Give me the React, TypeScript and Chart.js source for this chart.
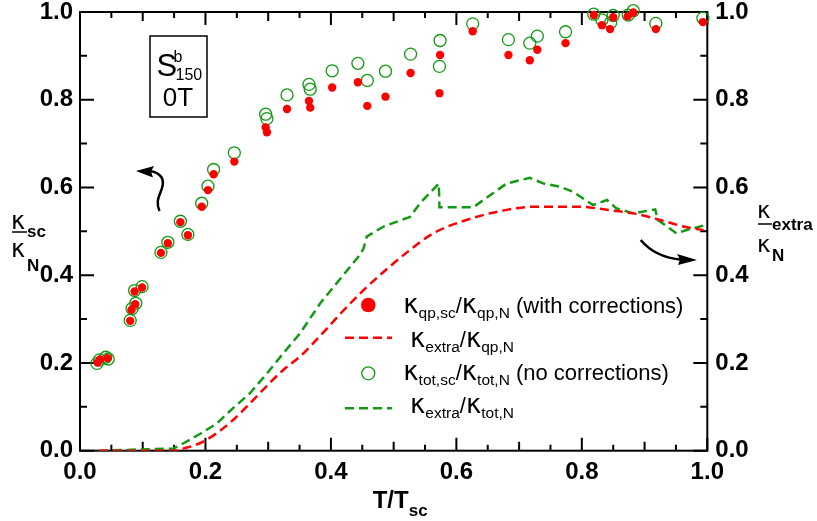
import React, { useEffect, useRef } from 'react';
import { Chart, registerables } from 'chart.js';

Chart.register(...registerables);

// ---------- data ----------
const xTickValues = [0, 0.2, 0.4, 0.6, 0.8, 1.0];
const xTickLabels = ['0.0', '0.2', '0.4', '0.6', '0.8', '1.0'];
const yTickValues = [0, 0.2, 0.4, 0.6, 0.8, 1.0];
const yTickLabels = ['0.0', '0.2', '0.4', '0.6', '0.8', '1.0'];
const xMinorValues = [0, 0.05, 0.1, 0.15, 0.2, 0.25, 0.3, 0.35, 0.4, 0.45, 0.5, 0.55, 0.6, 0.65, 0.7, 0.75, 0.8, 0.85, 0.9, 0.95, 1.0];
const yMinorValues = [0, 0.1, 0.2, 0.3, 0.4, 0.5, 0.6, 0.7, 0.8, 0.9, 1.0];

// kappa_qp,sc / kappa_qp,N (with corrections) — filled red
const corrT = [0.028, 0.032, 0.044, 0.080, 0.082, 0.087, 0.088, 0.099, 0.129, 0.140, 0.160, 0.172, 0.194, 0.204, 0.213, 0.246, 0.296, 0.298, 0.330, 0.365, 0.367, 0.402, 0.443, 0.458, 0.487, 0.527, 0.574, 0.573, 0.626, 0.683, 0.717, 0.729, 0.774, 0.819, 0.832, 0.845, 0.850, 0.873, 0.882, 0.918, 0.993];
const corrK = [0.201, 0.208, 0.211, 0.296, 0.321, 0.363, 0.334, 0.372, 0.451, 0.473, 0.521, 0.491, 0.556, 0.594, 0.630, 0.659, 0.737, 0.726, 0.779, 0.797, 0.782, 0.828, 0.840, 0.786, 0.807, 0.861, 0.902, 0.815, 0.956, 0.902, 0.890, 0.914, 0.929, 0.993, 0.970, 0.961, 0.988, 0.990, 0.999, 0.961, 0.977];

// kappa_tot,sc / kappa_tot,N (no corrections) — open green
const totT = [0.027, 0.031, 0.041, 0.045, 0.080, 0.083, 0.087, 0.089, 0.099, 0.129, 0.140, 0.160, 0.172, 0.194, 0.204, 0.213, 0.246, 0.296, 0.298, 0.330, 0.365, 0.367, 0.402, 0.443, 0.458, 0.487, 0.527, 0.574, 0.573, 0.626, 0.683, 0.717, 0.729, 0.774, 0.819, 0.832, 0.846, 0.850, 0.874, 0.882, 0.918, 0.993];
const totK = [0.199, 0.207, 0.213, 0.209, 0.297, 0.324, 0.365, 0.336, 0.374, 0.452, 0.475, 0.523, 0.493, 0.564, 0.603, 0.641, 0.679, 0.767, 0.757, 0.811, 0.835, 0.824, 0.866, 0.883, 0.844, 0.865, 0.904, 0.935, 0.876, 0.973, 0.937, 0.929, 0.945, 0.955, 0.995, 0.982, 0.976, 0.992, 0.993, 1.003, 0.974, 0.986];

// kappa_extra / kappa_qp,N — red dashed
const qpLineT = [0.03, 0.15, 0.165, 0.191, 0.218, 0.244, 0.271, 0.298, 0.324, 0.351, 0.383, 0.415, 0.452, 0.490, 0.526, 0.563, 0.616, 0.680, 0.723, 0.797, 0.840, 0.882, 0.925, 0.962, 0.994];
const qpLineK = [0.0, 0.0, 0.005, 0.017, 0.040, 0.070, 0.108, 0.148, 0.184, 0.215, 0.262, 0.312, 0.366, 0.415, 0.4575, 0.4955, 0.526, 0.549, 0.556, 0.556, 0.549, 0.541, 0.526, 0.511, 0.503];

// kappa_extra / kappa_tot,N — green dashed
const totLineT = [0.03, 0.149, 0.165, 0.191, 0.218, 0.244, 0.271, 0.298, 0.324, 0.351, 0.383, 0.415, 0.446, 0.452, 0.457, 0.484, 0.526, 0.542, 0.572, 0.573, 0.627, 0.680, 0.717, 0.739, 0.765, 0.786, 0.818, 0.840, 0.855, 0.882, 0.917, 0.921, 0.951, 0.967, 0.996];
const totLineK = [0.0, 0.005, 0.017, 0.038, 0.062, 0.097, 0.131, 0.176, 0.222, 0.268, 0.336, 0.392, 0.446, 0.461, 0.488, 0.511, 0.533, 0.564, 0.609, 0.555, 0.555, 0.609, 0.622, 0.609, 0.602, 0.590, 0.560, 0.5715, 0.5525, 0.541, 0.550, 0.526, 0.4955, 0.503, 0.514];

// ---------- styling ----------
const FONT = "'Liberation Sans', Arial, Helvetica, sans-serif";
const KFONT = "'DejaVu Sans', 'Liberation Sans', sans-serif";
const RED = '#ff0000';
const GREEN = '#139a13';

type Part = { t: string; size: number; bold?: boolean; dy?: number; fam?: string };

function drawRich(ctx: CanvasRenderingContext2D, x: number, y: number, parts: Part[]) {
  let cx = x;
  for (const p of parts) {
    ctx.font = `${p.bold ? 'bold ' : ''}${p.size}px ${p.fam || FONT}`;
    ctx.fillText(p.t, cx, y + (p.dy || 0));
    cx += ctx.measureText(p.t).width;
  }
  return cx;
}

const decorPlugin = {
  id: 'decor',
  beforeDatasetsDraw(chart: any) {
    const { ctx, chartArea: a, scales } = chart;
    ctx.save();
    ctx.strokeStyle = '#000';
    ctx.lineWidth = 2;
    ctx.strokeRect(a.left, a.top, a.right - a.left, a.bottom - a.top);
    ctx.beginPath();
    xMinorValues.forEach((v, i) => {
      const px = scales.x.getPixelForValue(v);
      const len = i % 4 === 0 ? 13 : i % 2 === 0 ? 9 : 6;
      ctx.moveTo(px, a.bottom); ctx.lineTo(px, a.bottom - len);
      ctx.moveTo(px, a.top); ctx.lineTo(px, a.top + len);
    });
    yMinorValues.forEach((v, i) => {
      const py = scales.y.getPixelForValue(v);
      const len = i % 2 === 0 ? 14 : 7;
      ctx.moveTo(a.left, py); ctx.lineTo(a.left + len, py);
      ctx.moveTo(a.right, py); ctx.lineTo(a.right - len, py);
    });
    ctx.stroke();
    ctx.restore();
  },
  afterDraw(chart: any) {
    const { ctx } = chart;
    ctx.save();
    ctx.fillStyle = '#000';
    ctx.strokeStyle = '#000';
    ctx.textBaseline = 'alphabetic';
    ctx.textAlign = 'left';

    // annotation box
    ctx.lineWidth = 1.5;
    ctx.strokeRect(150, 36, 57, 81);
    ctx.font = `31px ${FONT}`;
    ctx.fillText('S', 156.5, 76);
    ctx.font = `16px ${FONT}`;
    ctx.fillText('b', 173.5, 62);
    ctx.fillText('150', 175.5, 80);
    ctx.font = `26px ${FONT}`;
    ctx.textAlign = 'center';
    ctx.fillText('0T', 178, 106);
    ctx.textAlign = 'left';

    // x axis title
    drawRich(ctx, 372.7, 508, [
      { t: 'T/T', size: 24, bold: true },
      { t: 'sc', size: 17, bold: true, dy: 8 },
    ]);

    // left axis label (fraction)
    ctx.font = `24px ${KFONT}`;
    ctx.fillText('κ', 11, 229);
    ctx.font = `bold 17px ${FONT}`;
    ctx.fillText('sc', 27, 237);
    ctx.lineWidth = 1.5;
    ctx.beginPath(); ctx.moveTo(12, 232); ctx.lineTo(27, 232); ctx.stroke();
    ctx.font = `24px ${KFONT}`;
    ctx.fillText('κ', 11, 257);
    ctx.font = `bold 17px ${FONT}`;
    ctx.fillText('N', 27, 271);

    // right axis label (fraction)
    ctx.font = `23px ${KFONT}`;
    ctx.fillText('κ', 757, 218);
    ctx.font = `bold 17px ${FONT}`;
    ctx.fillText('extra', 772, 230);
    ctx.beginPath(); ctx.moveTo(758, 224); ctx.lineTo(772, 224); ctx.stroke();
    ctx.font = `23px ${KFONT}`;
    ctx.fillText('κ', 757, 252);
    ctx.font = `bold 17px ${FONT}`;
    ctx.fillText('N', 772, 261);

    // arrows
    ctx.lineWidth = 2.5;
    ctx.beginPath();
    ctx.moveTo(159.5, 211);
    ctx.bezierCurveTo(155, 201, 160, 195, 162, 188);
    ctx.bezierCurveTo(164.5, 180, 162, 173, 150, 171);
    ctx.stroke();
    ctx.beginPath();
    ctx.moveTo(136, 171); ctx.lineTo(154, 166); ctx.lineTo(151, 171.5); ctx.lineTo(153, 177.5); ctx.closePath();
    ctx.fill();

    ctx.beginPath();
    ctx.moveTo(640.7, 240);
    ctx.quadraticCurveTo(655, 257, 680, 259.5);
    ctx.stroke();
    ctx.beginPath();
    ctx.moveTo(697, 260); ctx.lineTo(677, 254); ctx.lineTo(680, 259.5); ctx.lineTo(678, 265); ctx.closePath();
    ctx.fill();

    // legend
    const KS = 26, TS = 22, SS = 15.5, SD = 5;
    const k: Part = { t: 'κ', size: KS, fam: KFONT };
    // row 1
    ctx.fillStyle = RED;
    ctx.beginPath(); ctx.arc(368.3, 305, 7.3, 0, Math.PI * 2); ctx.fill();
    ctx.fillStyle = '#000';
    drawRich(ctx, 403.3, 313, [
      k, { t: 'qp,sc', size: SS, dy: SD }, { t: '/', size: TS },
      k, { t: 'qp,N', size: SS, dy: SD }, { t: ' (with corrections)', size: TS },
    ]);
    // row 2
    ctx.strokeStyle = RED; ctx.lineWidth = 2.5; ctx.setLineDash([9, 5]);
    ctx.beginPath(); ctx.moveTo(345, 337.7); ctx.lineTo(392, 337.7); ctx.stroke();
    ctx.setLineDash([]);
    drawRich(ctx, 410, 346.7, [
      k, { t: 'extra', size: SS, dy: SD }, { t: '/', size: TS },
      k, { t: 'qp,N', size: SS, dy: SD },
    ]);
    // row 3
    ctx.strokeStyle = GREEN; ctx.lineWidth = 1.3;
    ctx.beginPath(); ctx.arc(368.3, 373.3, 6.5, 0, Math.PI * 2); ctx.stroke();
    drawRich(ctx, 403.3, 380, [
      k, { t: 'tot,sc', size: SS, dy: SD }, { t: '/', size: TS },
      k, { t: 'tot,N', size: SS, dy: SD }, { t: ' (no corrections)', size: TS },
    ]);
    // row 4
    ctx.strokeStyle = GREEN; ctx.lineWidth = 2.5; ctx.setLineDash([9, 5]);
    ctx.beginPath(); ctx.moveTo(345, 408.3); ctx.lineTo(392, 408.3); ctx.stroke();
    ctx.setLineDash([]);
    drawRich(ctx, 410, 413.3, [
      k, { t: 'extra', size: SS, dy: SD }, { t: '/', size: TS },
      k, { t: 'tot,N', size: SS, dy: SD },
    ]);
    ctx.restore();
  },
};

const tickFont = { family: FONT, size: 24, weight: 'bold' as const };

function fixV(w: number) {
  return (s: any) => { s.width = w; s.paddingTop = 0; s.paddingBottom = 0; };
}

export default function App() {
  const ref = useRef<HTMLCanvasElement | null>(null);
  useEffect(() => {
    if (!ref.current) return;
    const chart = new Chart(ref.current, {
      type: 'scatter',
      data: {
        datasets: [
          {
            label: 'κqp,sc/κqp,N (with corrections)',
            type: 'scatter',
            data: corrT.map((x, i) => ({ x, y: corrK[i] })),
            backgroundColor: RED,
            borderColor: RED,
            borderWidth: 0,
            pointRadius: 4.2,
            order: 0,
            clip: false,
            yAxisID: 'y',
          },
          {
            label: 'κtot,sc/κtot,N (no corrections)',
            type: 'scatter',
            data: totT.map((x, i) => ({ x, y: totK[i] })),
            backgroundColor: 'rgba(0,0,0,0)',
            borderColor: GREEN,
            borderWidth: 1.3,
            pointRadius: 6,
            order: 1,
            clip: false,
            yAxisID: 'y',
          },
          {
            label: 'κextra/κqp,N',
            type: 'line',
            data: qpLineT.map((x, i) => ({ x, y: qpLineK[i] })),
            borderColor: RED,
            borderWidth: 2.5,
            borderDash: [9, 5],
            pointRadius: 0,
            fill: false,
            cubicInterpolationMode: 'monotone',
            order: 2,
            yAxisID: 'y2',
          },
          {
            label: 'κextra/κtot,N',
            type: 'line',
            data: totLineT.map((x, i) => ({ x, y: totLineK[i] })),
            borderColor: GREEN,
            borderWidth: 2.5,
            borderDash: [9, 5],
            pointRadius: 0,
            fill: false,
            tension: 0,
            order: 3,
            yAxisID: 'y2',
          },
        ],
      } as any,
      options: {
        animation: false,
        responsive: true,
        maintainAspectRatio: false,
        layout: { autoPadding: false, padding: { top: 12, left: 0, right: 0, bottom: 0 } },
        plugins: { legend: { display: false }, tooltip: { enabled: false } },
        scales: {
          x: {
            type: 'linear',
            min: 0,
            max: 1,
            grid: { display: false, drawTicks: false },
            border: { display: false },
            afterBuildTicks: (s: any) => { s.ticks = xTickValues.map((v) => ({ value: v })); },
            afterFit: (s: any) => { s.height = 70.3; s.paddingLeft = 0; s.paddingRight = 0; },
            ticks: {
              callback: (_v: any, i: number) => xTickLabels[i],
              font: tickFont,
              color: '#000',
              padding: 7,
              maxRotation: 0,
              autoSkip: false,
            },
          },
          y: {
            type: 'linear',
            position: 'left',
            min: 0,
            max: 1,
            grid: { display: false, drawTicks: false },
            border: { display: false },
            afterBuildTicks: (s: any) => { s.ticks = yTickValues.map((v) => ({ value: v })); },
            afterFit: fixV(80),
            ticks: {
              callback: (_v: any, i: number) => yTickLabels[i],
              font: tickFont,
              color: '#000',
              padding: 7,
              autoSkip: false,
            },
          },
          y2: {
            type: 'linear',
            position: 'right',
            min: 0,
            max: 1,
            grid: { display: false, drawTicks: false },
            border: { display: false },
            afterBuildTicks: (s: any) => { s.ticks = yTickValues.map((v) => ({ value: v })); },
            afterFit: fixV(109.7),
            ticks: {
              callback: (_v: any, i: number) => yTickLabels[i],
              font: tickFont,
              color: '#000',
              padding: 8,
              autoSkip: false,
            },
          },
        },
      } as any,
      plugins: [decorPlugin],
    });
    return () => chart.destroy();
  }, []);

  return (
    <div style={{ position: 'absolute', left: 0, top: 0, width: 817, height: 521, background: '#fff' }}>
      <canvas ref={ref} />
    </div>
  );
}
